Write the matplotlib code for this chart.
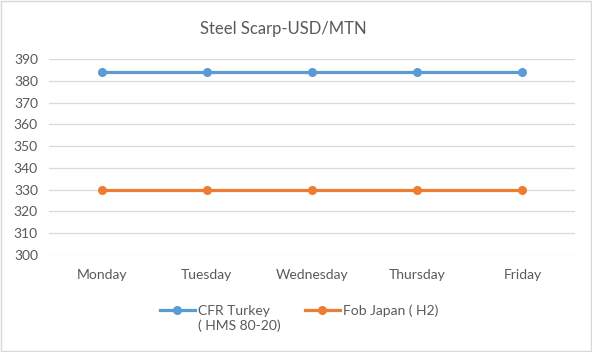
import matplotlib.pyplot as plt
from matplotlib.patches import Rectangle

days = ["Monday", "Tuesday", "Wednesday", "Thursday", "Friday"]
cfr_turkey = [384, 384, 384, 384, 384]
fob_japan = [330, 330, 330, 330, 330]
yticks = [300, 310, 320, 330, 340, 350, 360, 370, 380, 390]

plt.rcParams['font.family'] = ['Lato', 'DejaVu Sans']

fig = plt.figure(figsize=(5.92, 3.52), dpi=100)
ax = fig.add_axes([49 / 592, 1 - 255 / 352, 526 / 592, 196 / 352])

x = list(range(len(days)))
l1, = ax.plot(x, cfr_turkey, color="#5b9bd5", lw=2.3, marker="o", ms=5.5,
              label="CFR Turkey\n( HMS 80-20)")
l2, = ax.plot(x, fob_japan, color="#ed7d31", lw=2.3, marker="o", ms=5.5,
              label="Fob Japan ( H2)")

ax.set_xlim(-0.5, len(days) - 0.5)
ax.set_ylim(300, 390)
ax.set_yticks(yticks)
ax.set_xticks(x)
ax.set_xticklabels(days)
ax.grid(axis="y", color="#d9d9d9", lw=0.9)
ax.set_axisbelow(True)
for s in ax.spines.values():
    s.set_visible(False)
ax.tick_params(length=0, colors="#595959", labelsize=10)
ax.tick_params(axis="x", pad=10)
ax.tick_params(axis="y", pad=8)

fig.text(283 / 592, 1 - 29 / 352, "Steel Scarp-USD/MTN", ha="center", va="center",
         fontsize=12, color="#595959")

# two legends so each handle sits on the first label line
common = dict(frameon=False, fontsize=10, handlelength=2.5, handletextpad=0.25,
              borderpad=0, borderaxespad=0, labelcolor="#595959")
fig.legend(handles=[l1], loc="lower left", bbox_to_anchor=(160 / 592, 1 - 344 / 352),
           handleheight=4.9, **common)
fig.legend(handles=[l2], loc="upper left", bbox_to_anchor=(305 / 592, 1 - 304 / 352),
           **common)

fig.patches.append(Rectangle((0.002, 0.004), 0.996, 0.992, transform=fig.transFigure,
                             fill=False, edgecolor="#d9d9d9", lw=1))

fig.savefig("out.png", dpi=100)
